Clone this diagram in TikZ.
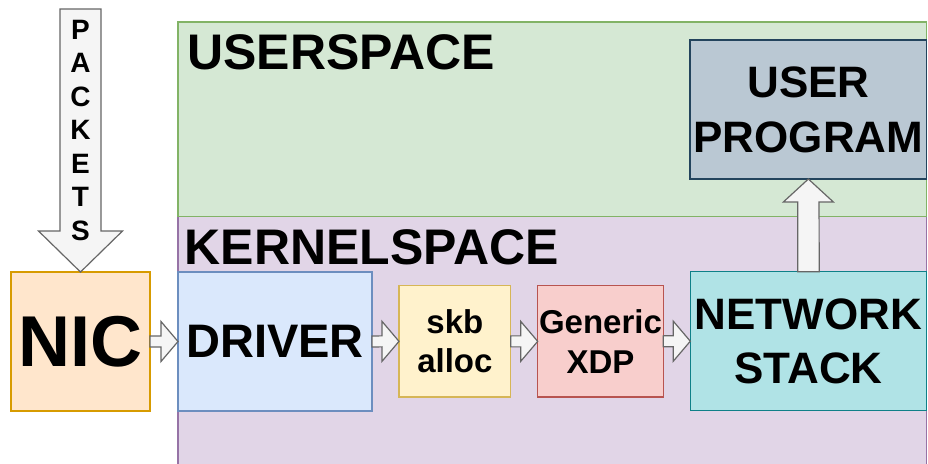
\documentclass[tikz,border=0pt]{standalone}
\usepackage{fontspec}
\setmainfont{Liberation Sans}
\usetikzlibrary{calc}

\definecolor{userfill}{HTML}{D5E8D4}\definecolor{userline}{HTML}{82B366}
\definecolor{kernfill}{HTML}{E1D5E7}\definecolor{kernline}{HTML}{9673A6}
\definecolor{nicfill}{HTML}{FFE6CC}\definecolor{nicline}{HTML}{D79B00}
\definecolor{drvfill}{HTML}{DAE8FC}\definecolor{drvline}{HTML}{6C8EBF}
\definecolor{skbfill}{HTML}{FFF2CC}\definecolor{skbline}{HTML}{D6B656}
\definecolor{xdpfill}{HTML}{F8CECC}\definecolor{xdpline}{HTML}{B85450}
\definecolor{netfill}{HTML}{B0E3E6}\definecolor{netline}{HTML}{0E8088}
\definecolor{progfill}{HTML}{BAC8D3}\definecolor{progline}{HTML}{23445D}
\definecolor{flowfill}{HTML}{F5F5F5}\definecolor{flowline}{HTML}{666666}

\newcommand\fsz[2]{\fontsize{#1}{#2}\selectfont}

% horizontal block arrow from the east side of #1 to the west side of #2
\newcommand\rightflow[2]{%
  \draw[flow] ($(#1.east)+(0,-5.5)$) -- ($(#2.west)+(-17,-5.5)$)
    -- ($(#2.west)+(-17,-20)$) -- (#2.west) -- ($(#2.west)+(-17,20)$)
    -- ($(#2.west)+(-17,5.5)$) -- ($(#1.east)+(0,5.5)$) -- cycle;}
% vertical block arrow, #1 tail, #2 tip, #3 shaft half width,
% #4 head half width, #5 head length (positive: points up, negative: down)
\newcommand\vflow[5]{%
  \draw[flow] ($(#1)+(-#3,0)$) -- ($(#2)+(-#3,#5)$) -- ($(#2)+(-#4,#5)$)
    -- (#2) -- ($(#2)+(#4,#5)$) -- ($(#2)+(#3,#5)$) -- ($(#1)+(#3,0)$) -- cycle;}

\begin{document}
\begin{tikzpicture}[x=1pt,y=-1pt,
  region/.style={draw, line width=1.2pt, inner sep=0pt, outer sep=0pt, anchor=north west},
  box/.style={draw, line width=1.2pt, inner sep=0pt, outer sep=0pt, anchor=north west,
    align=center, font=\bfseries},
  title/.style={inner sep=0pt, anchor=base west, font=\bfseries\fsz{50}{58}},
  flow/.style={draw=flowline, fill=flowfill, line width=1.2pt, line join=miter},
  pkt/.style={inner sep=0pt, anchor=base, font=\bfseries\fsz{28}{33}}]
\clip (0,0) rectangle (928,463);

% address spaces
\node[region, fill=kernfill, draw=kernline, minimum width=748.7, minimum height=270]
  (kern) at (178,216.7) {};
\node[region, fill=userfill, draw=userline, minimum width=748.7, minimum height=194.7]
  (user) at (178,22) {};
\node[title] (usertitle) at (187,69.5) {USERSPACE};
\node[title] (kerntitle) at (184.5,264) {KERNELSPACE};

% blocks of the receive path
\node[box, fill=nicfill, draw=nicline, minimum width=139, minimum height=139,
  font=\bfseries\fsz{72}{86}] (nic) at (11,272) {NIC};
\node[box, fill=drvfill, draw=drvline, minimum width=194, minimum height=139,
  font=\bfseries\fsz{47}{56}] (drv) at (178,272) {DRIVER};
\node[box, fill=skbfill, draw=skbline, minimum width=111.7, minimum height=111.3,
  font=\bfseries\fsz{33}{39}] (skb) at (399,285.7) {skb\\alloc};
\node[box, fill=xdpfill, draw=xdpline, minimum width=125.6, minimum height=111.3,
  font=\bfseries\fsz{33}{40}] (xdp) at (537.7,285.7) {Generic\\XDP};
\node[box, fill=netfill, draw=netline, minimum width=236.4, minimum height=139,
  font=\bfseries\fsz{44}{54}] (net) at (690.3,271.7) {NETWORK\\STACK};
\node[box, fill=progfill, draw=progline, minimum width=236.7, minimum height=139,
  font=\bfseries\fsz{44}{55}] (prog) at (690,40) {USER\\PROGRAM};

% incoming packets
\coordinate (pktsrc) at (80.5,9);
\vflow{pktsrc}{nic.north}{20.5}{42}{-41}
\foreach \l [count=\i] in {P,A,C,K,E,T,S}
  \node[pkt] (pk\i) at (80.5,{39+33.5*(\i-1)}) {\l};

% flow between the blocks
\rightflow{nic}{drv}
\rightflow{drv}{skb}
\rightflow{skb}{xdp}
\rightflow{xdp}{net}
\vflow{net.north}{prog.south}{10.7}{25}{23}
\end{tikzpicture}
\end{document}
